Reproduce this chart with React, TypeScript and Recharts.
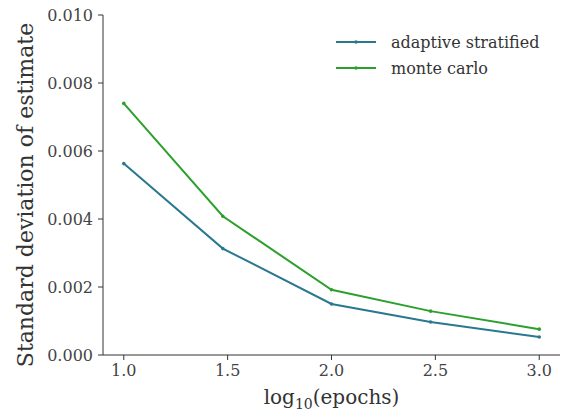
import { Line, LineChart, XAxis, YAxis } from "recharts";

const logEpochs = [1.0, 1.477, 2.0, 2.477, 3.0];
const adaptiveStratified = [0.00563, 0.00313, 0.0015, 0.00097, 0.00053];
const monteCarlo = [0.0074, 0.00408, 0.00192, 0.00129, 0.00076];
const xTicks = [1.0, 1.5, 2.0, 2.5, 3.0];
const yTicks = [0, 0.002, 0.004, 0.006, 0.008, 0.01];

const data = logEpochs.map((x, i) => ({
  x,
  adaptive: adaptiveStratified[i],
  monte: monteCarlo[i],
}));

const FONT = "DejaVu Serif";
const BLUE = "#2a788e";
const GREEN = "#2ca02c";
const AXIS = "#333";

function LegendBox() {
  const items = [
    { label: "adaptive stratified", color: BLUE },
    { label: "monte carlo", color: GREEN },
  ];
  return (
    <div
      style={{
        position: "absolute",
        left: 336,
        top: 29,
        fontFamily: FONT,
        fontSize: 16,
        color: "#333",
      }}
    >
      {items.map((it) => (
        <div key={it.label} style={{ display: "flex", alignItems: "center", height: 26 }}>
          <svg width={40} height={6} style={{ marginRight: 15 }}>
            <line x1={0} y1={3} x2={40} y2={3} stroke={it.color} strokeWidth={2} />
            <circle cx={20} cy={3} r={1.8} fill={it.color} />
          </svg>
          <span>{it.label}</span>
        </div>
      ))}
    </div>
  );
}

export default function App() {
  return (
    <div style={{ position: "absolute", left: 0, top: 0, width: 565, height: 416, background: "#fff" }}>
      <LineChart
        width={565}
        height={416}
        data={data}
        margin={{ top: 15, right: 5, left: 0, bottom: 0 }}
        style={{ fontFamily: FONT }}
      >
        <XAxis
          type="number"
          dataKey="x"
          domain={[0.9, 3.1]}
          ticks={xTicks}
          allowDataOverflow
          tickFormatter={(v: number) => v.toFixed(1)}
          height={61}
          stroke={AXIS}
          tickSize={5}
          tick={{ fill: "#444", fontSize: 16, fontFamily: FONT }}
          tickMargin={5}
          label={(props: any) => {
            const vb = props.viewBox;
            const cx = vb.x + vb.width / 2;
            return (
              <text x={cx} y={404} textAnchor="middle" fill="#333" fontFamily={FONT} fontSize={20}>
                log
                <tspan fontSize={14} dy={5}>10</tspan>
                <tspan dy={-5}>(epochs)</tspan>
              </text>
            );
          }}
        />
        <YAxis
          type="number"
          domain={[0, 0.01]}
          ticks={yTicks}
          tickFormatter={(v: number) => v.toFixed(3)}
          width={103}
          stroke={AXIS}
          tickSize={5}
          tick={{ fill: "#444", fontSize: 16, fontFamily: FONT }}
          tickMargin={5}
          label={(props: any) => {
            const vb = props.viewBox;
            const cy = vb.y + vb.height / 2 + 10;
            return (
              <text
                x={33}
                y={cy}
                transform={`rotate(-90, 33, ${cy})`}
                textAnchor="middle"
                fill="#333"
                fontFamily={FONT}
                fontSize={22}
              >
                Standard deviation of estimate
              </text>
            );
          }}
        />
        <Line
          dataKey="adaptive"
          stroke={BLUE}
          strokeWidth={2}
          dot={{ r: 1.8, fill: BLUE, stroke: BLUE, strokeWidth: 0 }}
          activeDot={false}
          isAnimationActive={false}
        />
        <Line
          dataKey="monte"
          stroke={GREEN}
          strokeWidth={2}
          dot={{ r: 1.8, fill: GREEN, stroke: GREEN, strokeWidth: 0 }}
          activeDot={false}
          isAnimationActive={false}
        />
      </LineChart>
      <LegendBox />
    </div>
  );
}
